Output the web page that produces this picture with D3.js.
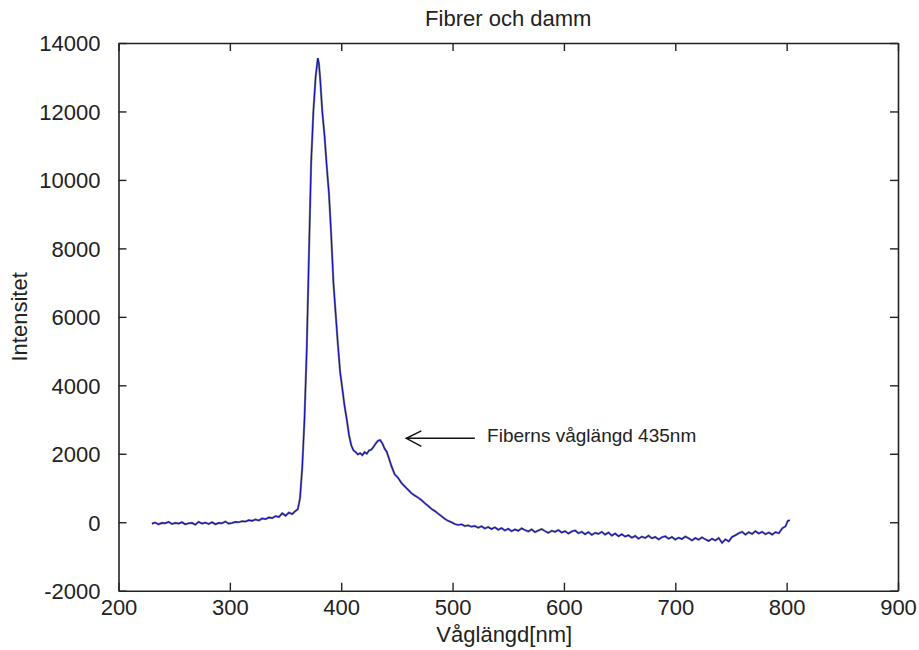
<!DOCTYPE html>
<html>
<head>
<meta charset="utf-8">
<script src="https://cdn.jsdelivr.net/npm/d3@7"></script>
<style>
  html, body { margin: 0; padding: 0; background: #fff; }
  svg { display: block; }
  text { font-family: "Liberation Sans", Arial, sans-serif; fill: #222; }
</style>
</head>
<body>
<svg id="chart" width="919" height="650"></svg>
<script>
const title = "Fibrer och damm";
const xLabel = "Våglängd[nm]";
const yLabel = "Intensitet";
const xTicks = [200, 300, 400, 500, 600, 700, 800, 900];
const yTicks = [-2000, 0, 2000, 4000, 6000, 8000, 10000, 12000, 14000];

const wavelength = [
  230,233,236,239,242,245,248,251,254,257,260,263,266,269,272,275,278,281,284,287,
  290,293,296,299,302,305,308,311,314,317,320,323,326,329,332,335,338,341,344,347,
  350,353,356,359,361,363,365,367,369,371,373,375,377,379,380,381,383,385,387,389,
  391,393,395,397,399,401,403,405,407,409,411,413,415,417,419,421,423,425,427,429,
  431,433,435,437,439,441,443,445,448,451,454,457,460,463,466,469,472,475,478,481,
  484,487,490,493,496,499,502,505,508,511,514,517,520,523,526,529,532,535,538,541,
  544,547,550,553,556,559,562,565,568,571,574,577,580,583,586,589,592,595,598,601,
  604,607,610,613,616,619,622,625,628,631,634,637,640,643,646,649,652,655,658,661,
  664,667,670,673,676,679,682,685,688,691,694,697,700,703,706,709,712,715,718,721,
  724,727,730,733,736,739,742,745,748,751,754,757,760,763,766,769,772,775,778,781,
  784,787,790,793,796,799,801,803
];
const intensity = [
  -40,-10,-60,-20,-30,10,-50,-20,-40,0,-60,-30,-20,-70,10,-40,-10,-50,0,-60,
  -20,-30,20,-40,-20,10,0,30,20,60,40,80,50,110,90,140,120,180,150,260,
  190,280,240,330,380,700,1600,3000,5000,7800,10500,12000,13000,13560,13400,13000,12000,11300,10400,9600,
  8400,7000,6100,5200,4400,3900,3400,3000,2550,2250,2100,2050,1980,2020,1960,2050,2000,2100,2120,2200,
  2300,2380,2400,2300,2150,2050,1850,1650,1400,1300,1150,1050,950,850,780,720,650,560,480,390,
  330,250,180,100,40,0,-50,-80,-60,-110,-90,-130,-110,-160,-120,-180,-140,-200,-150,-220,
  -170,-240,-190,-260,-210,-250,-180,-230,-270,-210,-290,-240,-200,-260,-310,-250,-280,-230,-300,-260,
  -330,-270,-240,-320,-280,-350,-290,-370,-310,-340,-280,-360,-300,-390,-330,-410,-350,-420,-380,-450,
  -400,-480,-420,-460,-390,-470,-430,-500,-440,-410,-480,-430,-510,-450,-490,-420,-470,-530,-460,-510,
  -440,-500,-550,-480,-530,-460,-600,-500,-560,-430,-380,-320,-280,-360,-290,-340,-260,-330,-280,-350,
  -300,-360,-290,-320,-180,-120,40,60
];

const annotText = "Fiberns våglängd 435nm";
const annotTip = [458.5, 2450];
const annotTail = [520, 2450];
const annotTextPos = [531, 2350];

const svg = d3.select("#chart");
const mLeft = 118.5, mRight = 898, mTop = 43, mBottom = 590.7;

const x = d3.scaleLinear().domain([200, 900]).range([mLeft, mRight]);
const y = d3.scaleLinear().domain([-2000, 14000]).range([mBottom, mTop]);

const data = wavelength.map((w, i) => [w, intensity[i]]);

const fontSize = 22;
const fmt = d => String(d);
const gx = svg.append("g").attr("transform", `translate(0,${mBottom})`)
  .call(d3.axisBottom(x).tickValues(xTicks).tickSizeInner(-8).tickSizeOuter(0).tickPadding(12).tickFormat(fmt));
const gxTop = svg.append("g").attr("transform", `translate(0,${mTop})`)
  .call(d3.axisTop(x).tickValues(xTicks).tickSizeInner(-8).tickSizeOuter(0).tickFormat(""));
const gy = svg.append("g").attr("transform", `translate(${mLeft},0)`)
  .call(d3.axisLeft(y).tickValues(yTicks).tickSizeInner(-8).tickSizeOuter(0).tickPadding(18).tickFormat(fmt));
const gyRight = svg.append("g").attr("transform", `translate(${mRight},0)`)
  .call(d3.axisRight(y).tickValues(yTicks).tickSizeInner(-8).tickSizeOuter(0).tickFormat(""));

[gx, gxTop, gy, gyRight].forEach(g => {
  g.select(".domain").attr("stroke", "#222").attr("stroke-width", 1.6);
  g.selectAll(".tick line").attr("stroke", "#222").attr("stroke-width", 1.4);
  g.selectAll(".tick text").attr("font-size", fontSize).attr("font-family", "Liberation Sans, Arial, sans-serif").attr("fill", "#222");
});
gx.selectAll(".tick text").attr("dy", "0.55em");
gy.selectAll(".tick text").attr("dy", "0.36em");

const line = d3.line().x(d => x(d[0])).y(d => y(d[1]));
svg.append("path").datum(data).attr("d", line)
  .attr("fill", "none").attr("stroke", "#808088").attr("stroke-width", 2.2).attr("stroke-linejoin", "miter");
svg.append("path").datum(data).attr("d", line)
  .attr("fill", "none").attr("stroke", "#1010c0").attr("stroke-width", 1.1).attr("stroke-linejoin", "miter");

svg.append("text").attr("x", (mLeft + mRight) / 2).attr("y", 26).attr("text-anchor", "middle")
  .attr("font-size", 22).attr("fill", "#333").text(title);
svg.append("text").attr("x", (mLeft + mRight) / 2 - 4).attr("y", 642).attr("text-anchor", "middle")
  .attr("font-size", 22).text(xLabel);
svg.append("text").attr("transform", `translate(27,${(mTop + mBottom) / 2}) rotate(-90)`).attr("text-anchor", "middle")
  .attr("font-size", 22).text(yLabel);

const tipX = x(annotTip[0]), tipY = y(annotTip[1]);
svg.append("line").attr("x1", tipX).attr("y1", tipY).attr("x2", x(annotTail[0])).attr("y2", y(annotTail[1]))
  .attr("stroke", "#111").attr("stroke-width", 1.5);
svg.append("path").attr("d", `M${tipX + 15},${tipY - 7.5}L${tipX},${tipY}L${tipX + 15},${tipY + 8}`)
  .attr("fill", "none").attr("stroke", "#111").attr("stroke-width", 1.5);
svg.append("text").attr("x", x(annotTextPos[0])).attr("y", y(annotTextPos[1]))
  .attr("font-size", 19).attr("fill", "#111").text(annotText);
</script>
</body>
</html>
